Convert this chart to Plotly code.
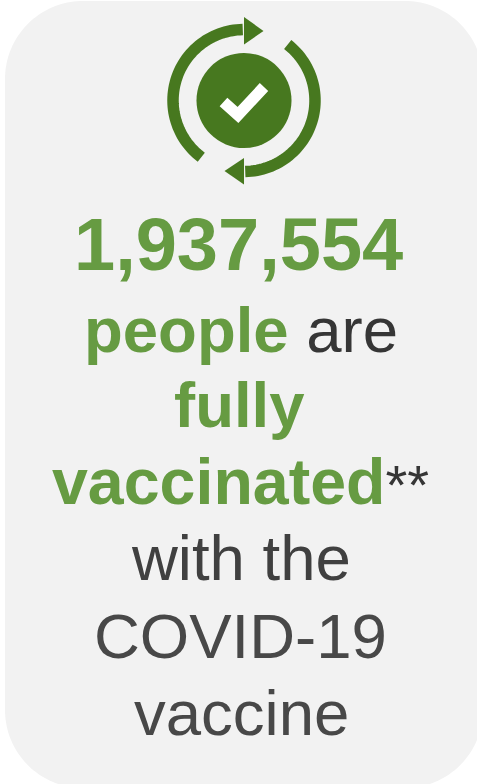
import numpy as np
import plotly.graph_objects as go

GREEN = "#669b42"
ICON = "#47781f"
CARD = "#f2f2f2"
DARK_A = "#363636"
DARK_B = "#404040"
DARK_C = "#484848"

headline = "1,937,554"
text_lines = [
    f'<b><span style="color:{GREEN}">people</span></b> are',
    f'<b><span style="color:{GREEN}">fully</span></b>',
    f'<b><span style="color:{GREEN}">vaccinated</span></b><span style="font-size:56px">**</span>',
    "with the",
    "COVID-19",
    "vaccine",
]
line_colors = [DARK_A, DARK_A, DARK_A, DARK_B, DARK_C, DARK_C]
line_sizes = [63.5, 63.5, 64.5, 63.5, 63.5, 63.5]
line_x = [240.5, 239.5, 240, 241, 240, 241.5]
line_y = [330, 405, 482, 558, 636, 713]

W, H = 477, 784
CX, CY = 244, 100.5


def arc(r, a0, a1, n=60):
    t = np.radians(np.linspace(a0, a1, n))
    return [(CX + r * np.cos(v), CY - r * np.sin(v)) for v in t]


def path(points, close=False):
    s = "M" + " L".join(f"{x:.2f},{y:.2f}" for x, y in points)
    return s + (" Z" if close else "")


def corner(cx, cy, r, a0, a1):
    t = np.radians(np.linspace(a0, a1, 40))
    return [(cx + r * np.cos(v), cy - r * np.sin(v)) for v in t]


L, T, R, B, RAD = 5, 1, 483, 788, 78
card = (corner(L + RAD, T + RAD, RAD, 180, 90) + corner(R - RAD, T + RAD, RAD, 90, 0)
        + corner(R - RAD, B - RAD, RAD, 0, -90) + corner(L + RAD, B - RAD, RAD, -90, -180))

shapes = [
    dict(type="path", path=path(card, True), fillcolor=CARD, line_width=0, layer="below"),
    dict(type="circle", x0=CX - 47.5, x1=CX + 47.5, y0=CY - 47.5, y1=CY + 47.5, fillcolor=ICON, line_width=0),
    dict(type="path", path=path(arc(71, 233, 91)), line=dict(color=ICON, width=11.5)),
    dict(type="path", path=path(arc(71, 52, -89)), line=dict(color=ICON, width=11.5)),
    dict(type="path", path=path([(244, 17), (263.5, 31), (244, 44.5)], True), fillcolor=ICON, line_width=0),
    dict(type="path", path=path([(244, 158), (224.5, 171), (244, 184.5)], True), fillcolor=ICON, line_width=0),
    dict(type="path", path=path([(223.5, 102), (238, 115), (264, 87)]), line=dict(color="white", width=11.5)),
]

annotations = [dict(x=238.5, y=244, text=f"<b>{headline}</b>", showarrow=False, xanchor="center", yanchor="middle",
                    font=dict(family="Liberation Sans", size=74, color=GREEN))]
for txt, x, y, col, sz in zip(text_lines, line_x, line_y, line_colors, line_sizes):
    annotations.append(dict(x=x, y=y, text=txt, showarrow=False, xanchor="center", yanchor="middle",
                            font=dict(family="Liberation Sans", size=sz, color=col)))

fig = go.Figure()
fig.update_layout(
    width=W, height=H, margin=dict(l=0, r=0, t=0, b=0),
    paper_bgcolor="white", plot_bgcolor="white", showlegend=False,
    xaxis=dict(range=[0, W], visible=False, fixedrange=True),
    yaxis=dict(range=[H, 0], visible=False, fixedrange=True),
    shapes=shapes, annotations=annotations,
)
fig.write_html("out.html", config=dict(displayModeBar=False),
               default_width=f"{W}px", default_height=f"{H}px",
               post_script="document.body.style.margin='0';")
